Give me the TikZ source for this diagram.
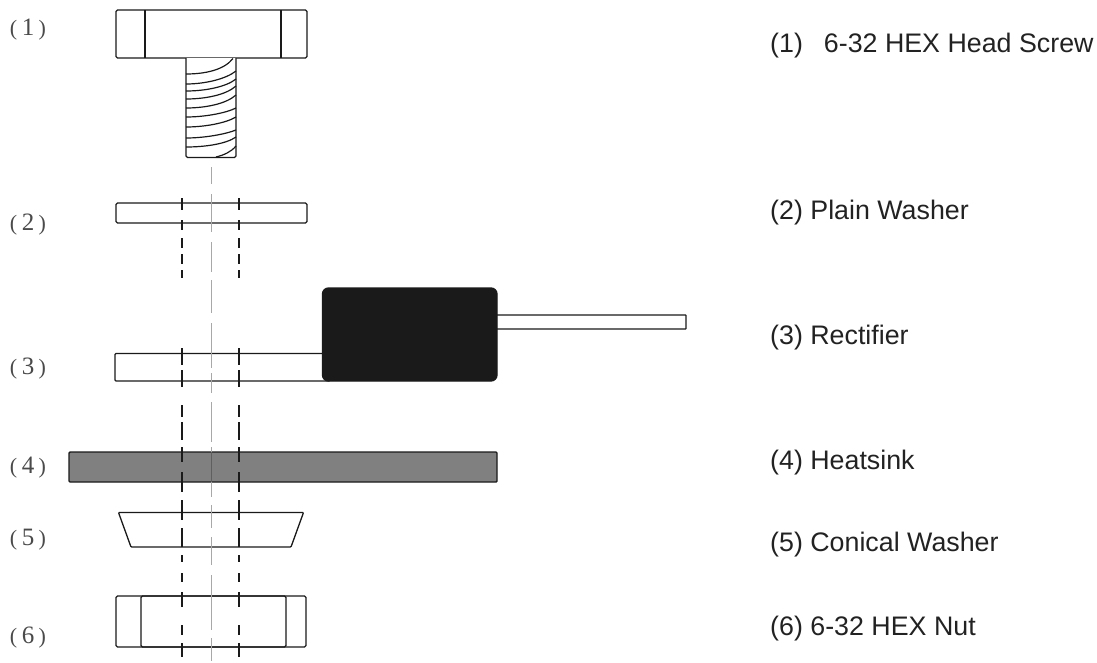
\documentclass[tikz,border=0pt]{standalone}
\usepackage{fontspec}
\setmainfont{Liberation Sans}
\newfontfamily\numfont{Liberation Serif}
\definecolor{inkc}{HTML}{1A1A1A}
\definecolor{sinkc}{HTML}{808080}
\definecolor{axisc}{HTML}{A8A8A8}
\definecolor{tagc}{HTML}{4A4A4A}
\definecolor{capc}{HTML}{222222}
\tikzset{
  part/.style={draw=inkc,line width=1.3pt,fill=white,rounded corners=1.5pt},
  outline/.style={draw=inkc,line width=1.3pt},
  hidden/.style={draw=inkc,line width=1.1pt},
  axisline/.style={draw=axisc,line width=1.1pt},
  tag/.style={font=\numfont\fontsize{22}{22}\selectfont,text=tagc,anchor=center,inner sep=0pt},
  caption/.style={font=\fontsize{26.8}{30}\selectfont,text=capc,anchor=base west,inner sep=0pt}
}
\newcommand{\tagtext}[1]{(\hspace{4.5pt}{\fontsize{25}{25}\selectfont #1}\hspace{4.5pt})}
\begin{document}
\begin{tikzpicture}[x=1pt,y=-1pt]
\useasboundingbox (0,0) rectangle (1097,662);
% screw head
\draw[part] (116,10) rectangle (307,58);
\draw[outline] (145,10) -- (145,58);
\draw[outline] (281,10) -- (281,58);
% screw shank
\draw[part] (186,58) -- (186,157.5) -- (236,157.5) -- (236,58);
\draw[outline,line width=1.2pt]
  (186,74) .. controls (205,74) and (224,70) .. (233,58.5)
  (186,84) .. controls (205,84) and (226,79) .. (236,71)
  (186,91) .. controls (205,91) and (226,87) .. (236,79)
  (186,99) .. controls (205,99) and (226,95) .. (236,86)
  (186,108) .. controls (205,108) and (226,104) .. (236,95)
  (186,117) .. controls (205,117) and (226,113) .. (236,108)
  (186,127) .. controls (205,127) and (226,123) .. (236,117)
  (186,138) .. controls (205,138) and (226,134) .. (236,130)
  (186,147) .. controls (205,147) and (226,144) .. (236,137)
  (216,157) .. controls (224,155) and (231,152) .. (236,146);
% plain washer
\draw[part] (116,203) rectangle (307,223);
% rectifier tab and lead
\draw[part,rounded corners=1pt] (115,353.5) rectangle (330,381);
\draw[part,rounded corners=0.5pt] (490,315) rectangle (686,329);
\draw[draw=inkc,fill=inkc,line width=1.3pt,rounded corners=6pt] (322.5,288) rectangle (497,381);
% heatsink
\draw[draw=inkc,fill=sinkc,line width=1.4pt,rounded corners=1pt] (69,452) rectangle (497,482);
% conical washer
\draw[part,rounded corners=0.8pt] (118.5,512.5) -- (303.5,512.5) -- (291,547) -- (131,547) -- cycle;
% nut
\draw[part] (116,596) rectangle (306,647);
\draw[part,fill=none] (141,596) rectangle (286,647);
% hidden edges
\foreach \px in {182,239}{
  \foreach \ya/\yb in {198/210,220/230,238/248,254/264,270/278,348/365,370/387,405/417,422/440,447/462,472/492,500/520,528/547,555/562,573/582,592/607,625/635,643/657}{
    \draw[hidden] (\px,\ya) -- (\px,\yb);
  }
}
% centre line
\foreach \ya/\yb in {167/184,194/232,242/272,280/313,323/368,373/393,402/442,447/497,505/528,537/565,575/630,638/661}{
  \draw[axisline] (211.5,\ya) -- (211.5,\yb);
}
\draw[draw=inkc!70,line width=1pt] (211.5,452) -- (211.5,482);
% left tags
\node[tag] (t1) at (28,30) {\tagtext{1}};
\node[tag] (t2) at (28,225) {\tagtext{2}};
\node[tag] (t3) at (28,369) {\tagtext{3}};
\node[tag] (t4) at (28,468) {\tagtext{4}};
\node[tag] (t5) at (28,540) {\tagtext{5}};
\node[tag] (t6) at (28,638) {\tagtext{6}};
% right captions
\node[caption] (c1) at (770,52.7) {(1)\hspace{21pt}6-32 HEX Head Screw};
\node[caption] (c2) at (770,219) {(2) Plain Washer};
\node[caption] (c3) at (770,344) {(3) Rectifier};
\node[caption] (c4) at (770,469) {(4) Heatsink};
\node[caption] (c5) at (770,551.7) {(5) Conical Washer};
\node[caption] (c6) at (770,635) {(6) 6-32 HEX Nut};
\end{tikzpicture}
\end{document}
